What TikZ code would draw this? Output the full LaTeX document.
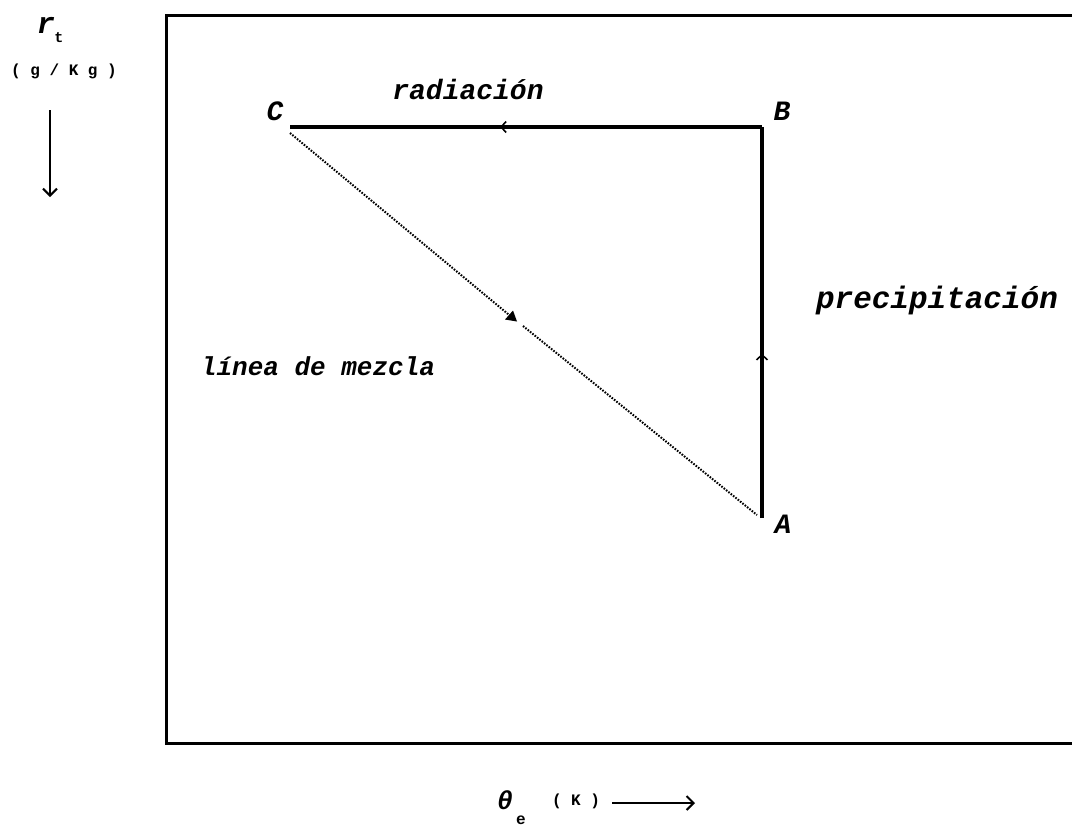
\documentclass[tikz,border=0pt]{standalone}
\usepackage{fontspec}
\newfontfamily\mono{Liberation Mono}
\usetikzlibrary{arrows.meta,decorations.markings}
\begin{document}
\begin{tikzpicture}[x=1pt,y=-1pt,
  lbl/.style={font=\mono\bfseries\itshape\fontsize{#1}{#1}\selectfont, inner sep=0pt},
  lbl/.default=28,
  small/.style={font=\mono\bfseries\fontsize{16}{16}\selectfont, inner sep=0pt},
  frameline/.style={line width=3pt},
  solidpath/.style={line width=3.5pt},
  dotpath/.style={line width=2pt, dash pattern=on 1.6pt off 1.4pt},
  axisarrow/.style={line width=2.2pt, -{Straight Barb[length=7pt,width=14pt,line width=2pt]}},
  midarrow/.style={postaction={decorate}, decoration={markings, mark=at position #1 with {\arrow{Straight Barb[length=5pt,width=11pt,line width=1.6pt]}}}}
]
\useasboundingbox (0,0) rectangle (1072,827);
\clip (0,0) rectangle (1072,827);
% frame (open on the right)
\draw[frameline] (1072,15) -- (166,15) -- (166,743) -- (1072,743);

% corner points
\coordinate (C) at (290,127);
\coordinate (B) at (762,127);
\coordinate (A) at (762,518);
\coordinate (Cd) at (290,133);
\coordinate (Ad) at (757,515);
\coordinate (M1) at (514,319);
\coordinate (M2) at (523,326);

% paths
\draw[solidpath, midarrow=0.555] (B) -- (C);
\draw[solidpath, midarrow=0.42] (A) -- (B);
\draw[dotpath] (Cd) -- (M1);
\draw[dotpath] (M2) -- (Ad);
\fill (M1) ++(3,2.5) -- ++(-12,-2) -- ++(8,-9) -- cycle;

% point labels
\node[lbl] (lC) at (275,111) {C};
\node[lbl] (lB) at (782,111) {B};
\node[lbl] (lA) at (783,524) {A};

% process labels
\node[lbl] (rad) at (468,89) {radiación};
\node[lbl=31] (prec) at (937,300) {precipitación};
\node[lbl=26] (mez) at (318,366) {línea de mezcla};

% vertical axis
\node[font=\mono\bfseries\itshape\fontsize{30}{30}\selectfont, inner sep=0pt] (r) at (46,25) {r};
\node[font=\mono\bfseries\fontsize{15}{15}\selectfont, inner sep=0pt] (rt) at (59,38) {t};
\node[small] (rtu) at (64,71) {( g / K g )};
\coordinate (v1) at (50,110);
\coordinate (v2) at (50,197);
\draw[axisarrow] (v1) -- (v2);

% horizontal axis
\node[font=\mono\bfseries\itshape\fontsize{26}{26}\selectfont, inner sep=0pt] (th) at (505,800) {θ};
\node[font=\mono\bfseries\fontsize{16}{16}\selectfont, inner sep=0pt] (the) at (521,820) {e};
\node[small] (thu) at (576,801) {( K )};
\coordinate (h1) at (612,803);
\coordinate (h2) at (695,803);
\draw[axisarrow] (h1) -- (h2);
\end{tikzpicture}
\end{document}
